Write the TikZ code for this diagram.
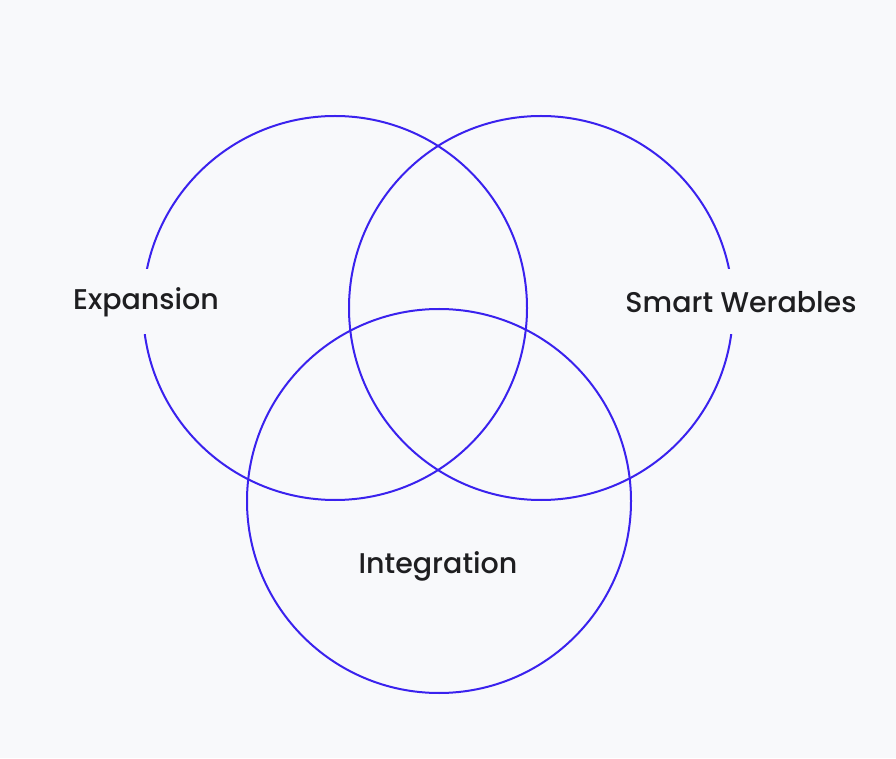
\documentclass[tikz,border=0pt]{standalone}
\usepackage{fontspec}
\setmainfont{Poppins Medium}
\definecolor{pagebg}{RGB}{248,249,251}
\definecolor{ringblue}{RGB}{58,34,238}
\definecolor{labelink}{RGB}{30,30,32}
\tikzset{
  ring/.style={draw=ringblue, line width=2pt},
  setlabel/.style={fill=pagebg, text=labelink, font=\fontsize{28.5}{32}\selectfont, inner xsep=2pt, minimum height=65pt}
}
\begin{document}
\begin{tikzpicture}[x=1pt, y=1pt]
  \fill[pagebg] (0,0) rectangle (896,758);
  \useasboundingbox (0,0) rectangle (896,758);
  \draw[ring] (335,450) circle (192);
  \draw[ring] (541,450) circle (192);
  \draw[ring] (439,257) circle (192);
  \node[setlabel] (expansion) at (146,456) {Expansion};
  \node[setlabel] (wearables) at (741,456) {Smart Werables};
  \node[setlabel, fill=none] (integration) at (438,192) {Integration};
\end{tikzpicture}
\end{document}
